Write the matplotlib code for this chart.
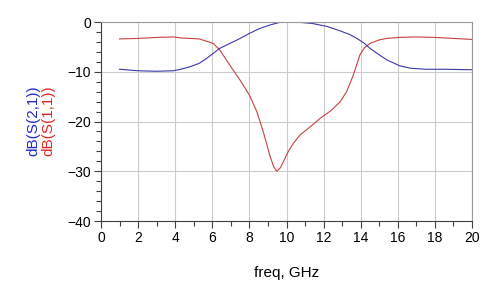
import numpy as np
import matplotlib.pyplot as plt
from matplotlib.ticker import MultipleLocator

plt.rcParams['font.family'] = ['Liberation Sans', 'DejaVu Sans']

# S21 (blue)
freq_s21 = [1.0, 2.0, 3.0, 3.9, 4.3, 4.8, 5.3, 5.7, 6.05, 6.4, 6.95, 7.5, 8.0, 8.5, 9.1, 9.65,
            10.5, 11.4, 12.2, 12.9, 13.4, 13.8, 14.2, 14.5, 15.0, 15.4, 16.1, 16.7, 17.5, 18.5, 20.0]
s21_db = [-9.5, -9.8, -9.9, -9.8, -9.5, -9.0, -8.3, -7.3, -6.3, -5.3, -4.3, -3.3, -2.3, -1.4, -0.6, -0.06,
          0.0, -0.3, -0.9, -1.8, -2.5, -3.3, -4.3, -5.3, -6.6, -7.6, -8.8, -9.3, -9.5, -9.5, -9.6]

# S11 (red)
freq_s11 = [1.0, 2.0, 3.0, 3.9, 4.3, 5.3, 6.05, 6.4, 6.95, 7.5, 8.0, 8.4, 8.75, 9.1, 9.3, 9.47,
            9.65, 9.83, 10.1, 10.37, 10.73, 11.3, 11.8, 12.4, 12.9, 13.24, 13.6, 13.96, 14.2, 14.5,
            15.0, 15.4, 16.1, 17.0, 18.0, 19.0, 20.0]
s11_db = [-3.4, -3.3, -3.1, -3.0, -3.2, -3.4, -4.3, -5.6, -8.7, -11.7, -14.7, -18.0, -22.1, -26.8, -29.0, -30.0,
          -29.4, -28.1, -26.0, -24.4, -22.7, -21.0, -19.4, -17.8, -16.0, -14.0, -10.7, -6.6, -5.2, -4.3,
          -3.6, -3.3, -3.1, -3.0, -3.1, -3.3, -3.5]

fig = plt.figure(figsize=(5, 2.88), dpi=100)
ax = fig.add_axes([0.202, 0.2326, 0.742, 0.691])

ax.plot(freq_s11, s11_db, color='#c84040', lw=0.8)
ax.plot(freq_s21, s21_db, color='#3a3aa8', lw=0.8)

ax.set_xlim(0, 20)
ax.set_ylim(-40, 0)
ax.xaxis.set_major_locator(MultipleLocator(2))
ax.xaxis.set_minor_locator(MultipleLocator(1))
ax.yaxis.set_major_locator(MultipleLocator(10))
ax.yaxis.set_minor_locator(MultipleLocator(2))
ax.grid(True, which='major', color='#cccccc', lw=0.8)
ax.tick_params(which='major', length=5, width=0.8, color='#404040', labelsize=10, pad=2)
ax.tick_params(which='minor', length=3.5, width=0.8, color='#404040')

for side in ['left', 'bottom']:
    ax.spines[side].set_color('#404040')
for side in ['top', 'right']:
    ax.spines[side].set_color('#999999')

fig.text(0.574, 0.052, 'freq, GHz', fontsize=11, ha='center', va='center')
fig.text(0.066, 0.58, 'dB(S(2,1))', color='#2828c8', fontsize=11, rotation=90, ha='center', va='center')
fig.text(0.096, 0.58, 'dB(S(1,1))', color='#e02828', fontsize=11, rotation=90, ha='center', va='center')

fig.savefig('out.png', dpi=100)
